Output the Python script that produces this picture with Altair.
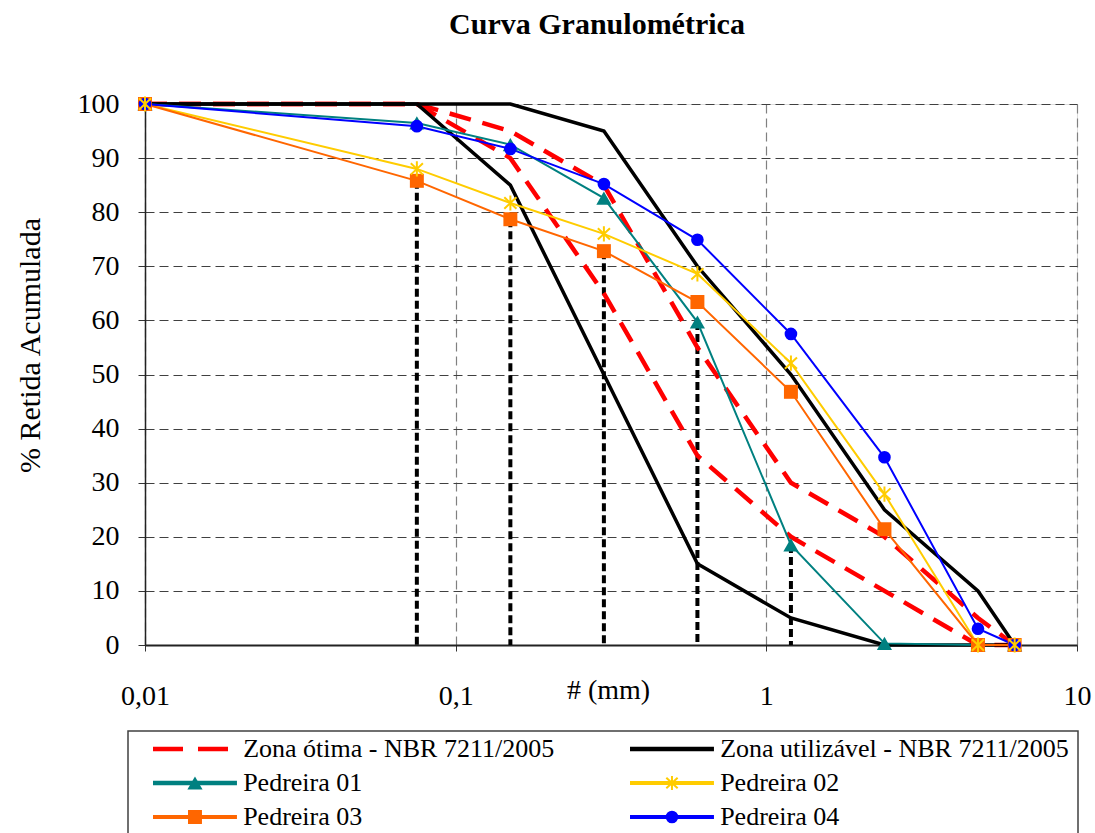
import altair as alt
import pandas as pd

# ---------------- data ----------------
sieves = [0.01, 0.075, 0.15, 0.3, 0.6, 1.2, 2.4, 4.8, 6.3]
otima_sup = [100, 100, 95, 85, 55, 30, 20, 5, 0]
otima_inf = [100, 100, 90, 65, 35, 20, 10, 0, 0]
util_sup = [100, 100, 100, 95, 70, 50, 25, 10, 0]
util_inf = [100, 100, 85, 50, 15, 5, 0, 0, 0]
ped01 = [100, 96.5, 92.5, 82.6, 59.7, 18.5, 0.3, 0, 0]
ped02 = [100, 88.0, 81.7, 76.0, 68.6, 52.1, 27.9, 0, 0]
ped03 = [100, 85.8, 78.7, 72.8, 63.4, 46.8, 21.4, 0, 0]
ped04 = [100, 95.9, 91.7, 85.2, 74.9, 57.5, 34.7, 3.0, 0]
drop_sieves = [0.075, 0.15, 0.3, 0.6, 1.2]

series_names = [
    "Zona ótima - NBR 7211/2005",
    "Zona utilizável - NBR 7211/2005",
    "Pedreira 01",
    "Pedreira 02",
    "Pedreira 03",
    "Pedreira 04",
]
series_colors = ["#FF0000", "#000000", "#008080", "#FFCC00", "#FF6600", "#0000FF"]

y_ticks = list(range(0, 101, 10))
x_ticks = [0.01, 0.1, 1, 10]

FONT = "Liberation Serif, Times New Roman, Times, serif"
ASTERISK = "M0,-1V1M-0.8,-0.75L0.8,0.75M-0.8,0.75L0.8,-0.75"

# ---------------- tables ----------------
zones = []
for name, lim, vals in [
    (series_names[0], "sup", otima_sup),
    (series_names[0], "inf", otima_inf),
    (series_names[1], "sup", util_sup),
    (series_names[1], "inf", util_inf),
]:
    for s, v in zip(sieves, vals):
        zones.append({"series": name, "limit": lim, "sieve": s, "value": v})
zones = pd.DataFrame(zones)

peds = []
for name, vals in zip(series_names[2:], [ped01, ped02, ped03, ped04]):
    for s, v in zip(sieves, vals):
        peds.append({"series": name, "sieve": s, "value": v})
peds = pd.DataFrame(peds)

drops = (
    peds[peds["sieve"].isin(drop_sieves)]
    .groupby("sieve", as_index=False)["value"].min()
)
drops["base"] = 0

COLOR = alt.Scale(domain=series_names, range=series_colors)

X = alt.X(
    "sieve:Q",
    scale=alt.Scale(type="log", domain=[0.01, 10], nice=False),
    axis=alt.Axis(
        values=x_ticks,
        labelExpr="replace(format(datum.value, '~g'), '.', ',')",
        title="# (mm)",
        titleX=463,
        titleY=53,
        titleBaseline="alphabetic",
        titleAlign="center",
        titleFont=FONT,
        titleFontSize=28,
        titleFontWeight="normal",
        titleColor="#000",
        labelFont=FONT,
        labelFontSize=28,
        labelColor="#000",
        labelPadding=31,
        labelFlush=False,
        tickSize=6,
        tickColor="#333",
        domainColor="#222",
        domainWidth=2,
        grid=True,
        gridDash=[9, 5],
        gridColor="#808080",
        gridWidth=1.2,
    ),
)
Y = alt.Y(
    "value:Q",
    scale=alt.Scale(domain=[0, 100], nice=False),
    axis=alt.Axis(
        values=y_ticks,
        title="% Retida Acumulada",
        titleX=-115,
        titleY=241,
        titleAngle=-90,
        titleAlign="center",
        titleBaseline="middle",
        titleFont=FONT,
        titleFontSize=30,
        titleFontWeight="normal",
        titleColor="#000",
        labelFont=FONT,
        labelFontSize=28,
        labelColor="#000",
        labelPadding=19,
        tickSize=7,
        tickColor="#333",
        domainColor="#222",
        domainWidth=1.5,
        grid=True,
        gridDash=[9, 5],
        gridColor="#404040",
        gridWidth=1.2,
    ),
)

drop_layer = alt.Chart(drops).mark_rule(
    color="black", strokeWidth=4, strokeDash=[8, 4]
).encode(x=X, y=Y, y2="base:Q")

otima_layer = alt.Chart(zones).transform_filter(
    alt.datum.series == series_names[0]
).mark_line(strokeWidth=4.5, strokeDash=[22, 12]).encode(
    x=X, y=Y, detail="limit:N",
    color=alt.Color("series:N", scale=COLOR, legend=None),
)

util_layer = alt.Chart(zones).transform_filter(
    alt.datum.series == series_names[1]
).mark_line(strokeWidth=3.5).encode(
    x=X, y=Y, detail="limit:N",
    color=alt.Color("series:N", scale=COLOR, legend=None),
)

ped_lines = alt.Chart(peds).mark_line(strokeWidth=2).encode(
    x=X, y=Y, color=alt.Color("series:N", scale=COLOR, legend=None),
)

SHAPE = alt.Scale(
    domain=["Pedreira 01", "Pedreira 03", "Pedreira 04"],
    range=["triangle-up", "square", "circle"],
)
SIZE = alt.Scale(
    domain=["Pedreira 01", "Pedreira 03", "Pedreira 04"],
    range=[230, 160, 160],
)

ped_pts = alt.Chart(peds).transform_filter(
    alt.datum.series != "Pedreira 02"
).mark_point(filled=True, opacity=1).encode(
    x=X, y=Y,
    color=alt.Color("series:N", scale=COLOR, legend=None),
    shape=alt.Shape("series:N", scale=SHAPE, legend=None),
    size=alt.Size("series:N", scale=SIZE, legend=None),
)

ped_ast = alt.Chart(peds).transform_filter(
    alt.datum.series == "Pedreira 02"
).mark_point(shape=ASTERISK, filled=False, size=230, strokeWidth=2, opacity=1).encode(
    x=X, y=Y, color=alt.Color("series:N", scale=COLOR, legend=None),
)

main = alt.layer(drop_layer, otima_layer, util_layer, ped_lines, ped_pts, ped_ast)

# ---------------- legend (drawn with its own scales) ----------------
SYM_W = 0.176
TXT_OFF = 0.189
leg = pd.DataFrame({
    "series": series_names,
    "col": [i % 2 for i in range(len(series_names))],
    "row": [i // 2 for i in range(len(series_names))],
})
leg["x0"] = leg["col"]
leg["x1"] = leg["col"] + SYM_W
leg["xm"] = leg["col"] + SYM_W / 2
leg["xt"] = leg["col"] + TXT_OFF

LX = alt.Scale(domain=[0, 1], range=[8, 485], zero=False, nice=False)
LY = alt.Scale(domain=[0, 2], range=[645, 713], zero=False, nice=False)

DASH = alt.Scale(domain=series_names, range=[[30, 15], [1, 0], [1, 0], [1, 0], [1, 0], [1, 0]])
WIDTH = alt.Scale(domain=series_names, range=[4.5, 4, 2, 2, 2, 2])
LSIZE = alt.Scale(
    domain=["Pedreira 01", "Pedreira 03", "Pedreira 04"],
    range=[180, 130, 130],
)

leg_box = alt.Chart(pd.DataFrame({"a": [0]})).mark_rect(
    filled=False, stroke="#404040", strokeWidth=1.5
).encode(
    x=alt.value(-17), x2=alt.value(933), y=alt.value(627), y2=alt.value(760)
)

leg_lines = alt.Chart(leg).mark_rule().encode(
    x=alt.X("x0:Q", scale=LX, axis=None),
    x2="x1:Q",
    y=alt.Y("row:Q", scale=LY, axis=None),
    color=alt.Color("series:N", scale=COLOR, legend=None),
    strokeDash=alt.StrokeDash("series:N", scale=DASH, legend=None),
    strokeWidth=alt.StrokeWidth("series:N", scale=WIDTH, legend=None),
)

leg_pts = alt.Chart(leg).transform_filter(
    alt.FieldOneOfPredicate(field="series", oneOf=["Pedreira 01", "Pedreira 03", "Pedreira 04"])
).mark_point(filled=True, opacity=1).encode(
    x=alt.X("xm:Q", scale=LX, axis=None),
    y=alt.Y("row:Q", scale=LY, axis=None),
    color=alt.Color("series:N", scale=COLOR, legend=None),
    shape=alt.Shape("series:N", scale=SHAPE, legend=None),
    size=alt.Size("series:N", scale=LSIZE, legend=None),
)

leg_ast = alt.Chart(leg).transform_filter(
    alt.datum.series == "Pedreira 02"
).mark_point(shape=ASTERISK, filled=False, size=200, strokeWidth=2, opacity=1).encode(
    x=alt.X("xm:Q", scale=LX, axis=None),
    y=alt.Y("row:Q", scale=LY, axis=None),
    color=alt.Color("series:N", scale=COLOR, legend=None),
)

leg_text = alt.Chart(leg).mark_text(
    align="left", baseline="middle", font=FONT, fontSize=26, color="black"
).encode(
    x=alt.X("xt:Q", scale=LX, axis=None),
    y=alt.Y("row:Q", scale=LY, axis=None),
    text="series:N",
)

legend = alt.layer(leg_box, leg_lines, leg_pts, leg_ast, leg_text)

chart = alt.layer(main, legend).resolve_scale(
    x="independent", y="independent"
).properties(
    width=932,
    height=541,
    padding={"left": 145, "top": 104, "right": 18, "bottom": 188},
    autosize=alt.AutoSizeParams(type="none"),
    title=alt.TitleParams(
        "Curva Granulométrica",
        font=FONT,
        fontSize=30,
        fontWeight="bold",
        color="black",
        anchor="middle",
        frame="group",
        dx=-14,
        offset=26,
        baseline="alphabetic",
    ),
).configure_view(
    stroke="#808080", strokeWidth=2
).configure(background="white")

chart.save("out.html", embed_options={"renderer": "svg", "actions": False})
